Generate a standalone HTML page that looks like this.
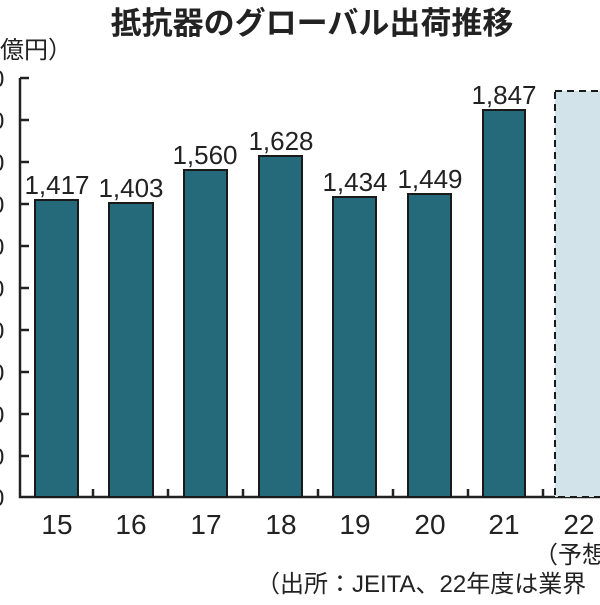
<!DOCTYPE html>
<html><head><meta charset="utf-8"><style>
body{margin:0;width:600px;height:600px;overflow:hidden;background:#fff;}
svg text{font-family:"Liberation Sans","Noto Sans CJK JP",sans-serif;fill:#222;}
</style></head><body>
<svg width="600" height="600" viewBox="0 0 600 600">
<text x="312" y="34" font-size="31" font-weight="bold" text-anchor="middle">抵抗器のグローバル出荷推移</text>
<text x="-24" y="58" font-size="24">（億円）</text>
<g font-size="24">
<text x="-9" y="87">0</text><text x="-9" y="129">0</text><text x="-9" y="171">0</text><text x="-9" y="213">0</text>
<text x="-9" y="255">0</text><text x="-9" y="297">0</text><text x="-9" y="339">0</text><text x="-9" y="381">0</text>
<text x="-9" y="423">0</text><text x="-9" y="465">0</text><text x="-9" y="506">0</text>
</g>
<g stroke="#222" stroke-width="2.5" fill="none">
<path d="M20 78V497H600"/>
<path d="M20 78h9M20 120h9M20 162h9M20 204h9M20 246h9M20 288h9M20 330h9M20 372h9M20 414h9M20 456h9"/>
<path d="M93 497v-8M168 497v-8M243 497v-8M318 497v-8M393 497v-8M468 497v-8M543 497v-8"/>
</g>
<g fill="#256a7b" stroke="#1a1a1a" stroke-width="2">
<rect x="35" y="200" width="43" height="297"/>
<rect x="109" y="203" width="44" height="294"/>
<rect x="184" y="170" width="43" height="327"/>
<rect x="259" y="156" width="43" height="341"/>
<rect x="333" y="197" width="43" height="300"/>
<rect x="408" y="194" width="43" height="303"/>
<rect x="483" y="110" width="42" height="387"/>
</g>
<rect x="555" y="91" width="60" height="406" fill="#d3e3ea" stroke="#1a1a1a" stroke-width="2" stroke-dasharray="7,5"/>
<g font-size="26" text-anchor="middle">
<text x="57" y="194">1,417</text><text x="131" y="197">1,403</text><text x="205" y="164">1,560</text>
<text x="281" y="150">1,628</text><text x="355" y="191">1,434</text><text x="430" y="188">1,449</text>
<text x="504" y="104">1,847</text>
</g>
<g font-size="28" text-anchor="middle">
<text x="57" y="534">15</text><text x="131" y="534">16</text><text x="206" y="534">17</text>
<text x="281" y="534">18</text><text x="355" y="534">19</text><text x="430" y="534">20</text>
<text x="504" y="534">21</text><text x="579" y="534">22</text>
</g>
<text x="534" y="563" font-size="24">（予想</text>
<text x="256" y="592" font-size="24">（出所：JEITA、22年度は業界</text>
</svg>
</body></html>
